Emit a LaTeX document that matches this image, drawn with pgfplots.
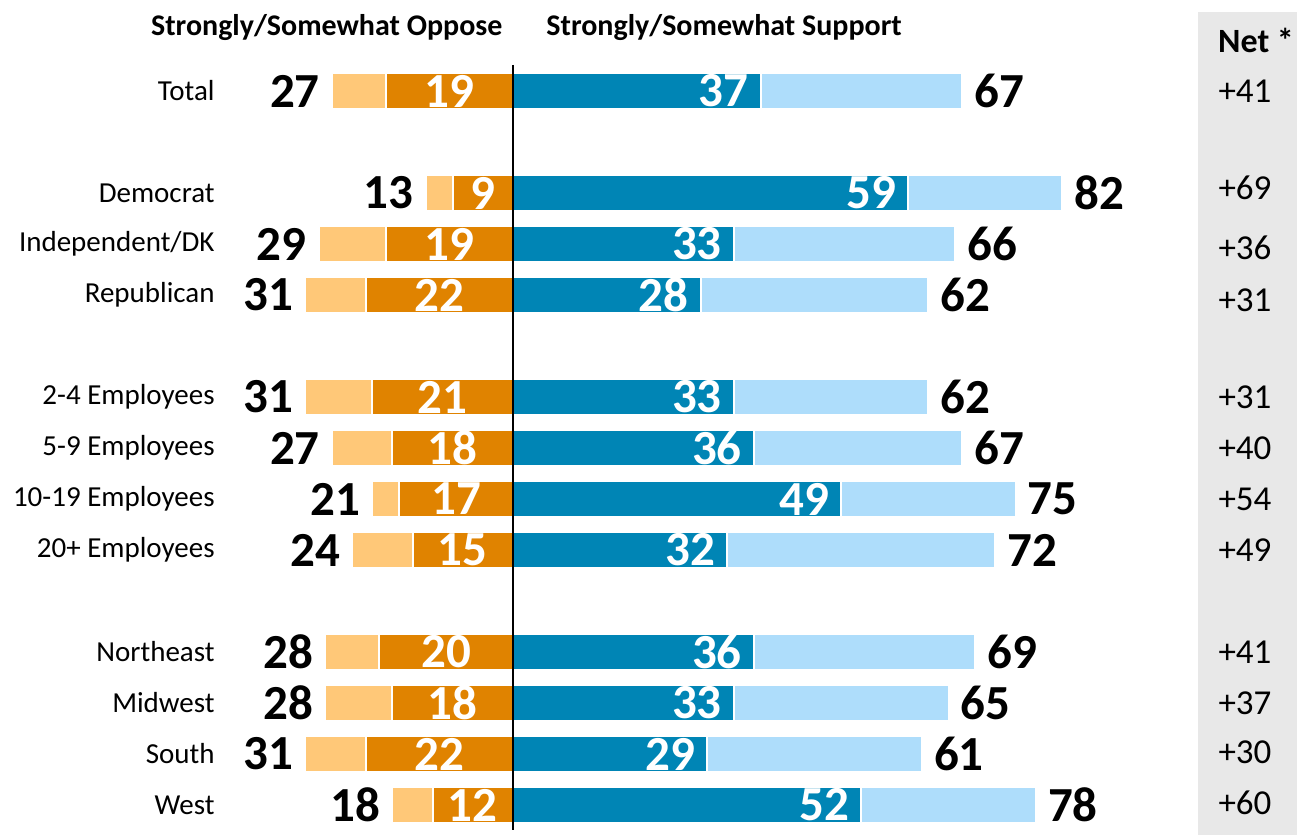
\documentclass[border=0pt]{standalone}
\usepackage{fontspec}
\setmainfont{Carlito}
\usepackage{pgfplots}
\usepackage{pgfplotstable}
\pgfplotsset{compat=1.18}
\definecolor{dkor}{HTML}{E08300}
\definecolor{ltor}{HTML}{FFC878}
\definecolor{dkbl}{HTML}{0085B5}
\definecolor{ltbl}{HTML}{AEDDFB}
\definecolor{netbg}{HTML}{E8E8E8}

\pgfplotstableread{
y to so ss ts net ny
0 27 19 37 67 +41 0
2 13 9 59 82 +69 1.9
3 29 19 33 66 +36 3.08
4 31 22 28 62 +31 4.1
6 31 21 33 62 +31 6
7 27 18 36 67 +40 7
8 21 17 49 75 +54 8
9 24 15 32 72 +49 9
11 28 20 36 69 +41 11
12 28 18 33 65 +37 12
13 31 22 29 61 +30 12.97
14 18 12 52 78 +60 13.96
}\data

\begin{document}
\begin{tikzpicture}
\begin{axis}[
  scale only axis, width=538.5pt, height=417.5pt,
  xmin=-42.99, xmax=117.76, ymin=-1.784, ymax=14.588, y dir=reverse,
  axis line style={draw=none}, tick style={draw=none}, xtick=\empty,
  ytick={0,2,3,4,6,7,8,9,11,12,13,14},
  yticklabels={Total,Democrat,Independent/DK,Republican,2-4 Employees,5-9 Employees,10-19 Employees,20+ Employees,Northeast,Midwest,South,West},
  yticklabel style={font=\fontsize{14.5}{14.5}\selectfont, inner sep=0pt, xshift=-5pt, anchor=east},
  bar width=18pt, clip=false,
  numlab/.style={draw=none, mark=none, nodes near coords, point meta=explicit symbolic},
]
\fill[netbg] (axis cs:102.2,-1.55) rectangle (axis cs:117.0,14.588);

% bars
\addplot[xbar, bar shift=0pt, fill=ltor, draw=white, line width=1pt] table[x expr=-\thisrow{to}, y=y] {\data};
\addplot[xbar, bar shift=0pt, fill=dkor, draw=white, line width=1pt] table[x expr=-\thisrow{so}, y=y] {\data};
\addplot[xbar, bar shift=0pt, fill=ltbl, draw=white, line width=1pt] table[x=ts, y=y] {\data};
\addplot[xbar, bar shift=0pt, fill=dkbl, draw=white, line width=1pt] table[x=ss, y=y] {\data};

% labels
\addplot[numlab, every node near coord/.style={anchor=east, xshift=-6pt, font=\fontsize{24.5}{24.5}\selectfont\bfseries, text=black, inner sep=0pt}]
  table[x expr=-\thisrow{to}, y=y, meta=to] {\data};
\addplot[numlab, every node near coord/.style={anchor=center, font=\fontsize{24.5}{24.5}\selectfont\bfseries, text=white, inner sep=0pt}]
  table[x expr=-\thisrow{so}/2, y=y, meta=so] {\data};
\addplot[numlab, every node near coord/.style={anchor=west, xshift=6pt, font=\fontsize{24.5}{24.5}\selectfont\bfseries, text=black, inner sep=0pt}]
  table[x=ts, y=y, meta=ts] {\data};
\addplot[numlab, every node near coord/.style={anchor=east, xshift=-6pt, font=\fontsize{24.5}{24.5}\selectfont\bfseries, text=white, inner sep=0pt}]
  table[x=ss, y=y, meta=ss] {\data};
\addplot[numlab, every node near coord/.style={anchor=center, font=\fontsize{17.5}{17.5}\selectfont, text=black, inner sep=0pt}]
  table[x expr=109.25, y=ny, meta=net] {\data};

\draw[black, line width=0.6pt] (axis cs:0,-0.51) -- (axis cs:0,14.49);

\node[font=\fontsize{15}{15}\selectfont\bfseries] at (axis cs:-27.8,-1.25) {Strongly/Somewhat Oppose};
\node[font=\fontsize{15}{15}\selectfont\bfseries] at (axis cs:31.5,-1.25) {Strongly/Somewhat Support};
\node[font=\fontsize{17}{17}\selectfont\bfseries] at (axis cs:110.9,-1.0) {Net *};
\end{axis}
\path (current axis.north west) ++(-112.5pt,0pt);
\end{tikzpicture}
\end{document}
